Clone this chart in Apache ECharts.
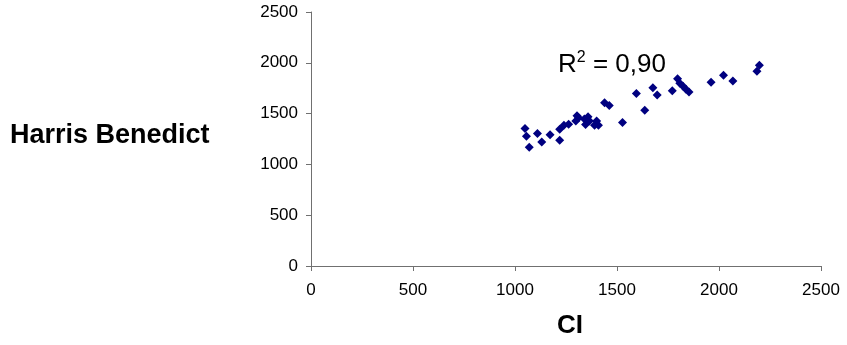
<!DOCTYPE html>
<html><head><meta charset="utf-8">
<script src="https://cdn.jsdelivr.net/npm/echarts@6/dist/echarts.min.js"></script>
<style>html,body{margin:0;padding:0;background:#fff}#c{width:847px;height:345px}</style>
</head><body><div id="c"></div>
<script>
var ciValues = [1049,1056,1070,1110,1131,1172,1219,1219,1240,1263,1298,1304,1312,1340,1346,1358,1365,1390,1400,1409,1439,1462,1527,1595,1636,1676,1697,1771,1797,1808,1824,1838,1853,1961,2022,2068,2186,2198];
var hbValues = [1353,1277,1170,1303,1220,1293,1237,1346,1386,1396,1426,1479,1459,1446,1393,1469,1426,1386,1426,1386,1606,1579,1413,1699,1533,1755,1682,1725,1842,1799,1769,1739,1712,1809,1878,1822,1918,1975];
var xTicks = [0,500,1000,1500,2000,2500];
var yTicks = [0,500,1000,1500,2000,2500];
var xTitle = 'CI';
var yTitle = 'Harris Benedict';
var r2Label = '0,90';

var data = ciValues.map(function(v,i){return [v, hbValues[i]];});
var chart = echarts.init(document.getElementById('c'));
function axisCfg(ticks, margin){
  return {
    type:'value',
    min: ticks[0], max: ticks[ticks.length-1], interval: ticks[1]-ticks[0],
    splitLine: {show:false},
    axisLine: {show:true, lineStyle:{color:'#707070', width:1}},
    axisTick: {show:true, length:5, lineStyle:{color:'#707070'}},
    axisLabel: {color:'#000', fontFamily:'Liberation Sans, Arial', fontSize:17, margin:margin,
      formatter:function(v){return String(v);}}
  };
}
chart.setOption({
  animation:false,
  grid:{left:311, right:26, top:12, bottom:79},
  xAxis: axisCfg(xTicks, 16),
  yAxis: axisCfg(yTicks, 13),
  series:[{type:'scatter', data:data, symbol:'diamond', symbolSize:9, itemStyle:{color:'#000080', opacity:1}}],
  graphic:[
    {type:'text', x:10, y:136, style:{text:yTitle, font:'bold 27px "Liberation Sans", Arial', fill:'#000', verticalAlign:'middle'}},
    {type:'text', x:570, y:326, style:{text:xTitle, font:'bold 26px "Liberation Sans", Arial', fill:'#000', align:'center', verticalAlign:'middle'}},
    {type:'text', x:558, y:50, style:{
      text:'{a|R}{s|2}{a| = ' + r2Label + '}',
      rich:{
        a:{fontFamily:'Liberation Sans, Arial', fontSize:26, fill:'#000', verticalAlign:'bottom', lineHeight:28},
        s:{fontFamily:'Liberation Sans, Arial', fontSize:16, fill:'#000', verticalAlign:'top', lineHeight:28, padding:[0,0,12,0]}
      }}}
  ]
});
</script></body></html>
